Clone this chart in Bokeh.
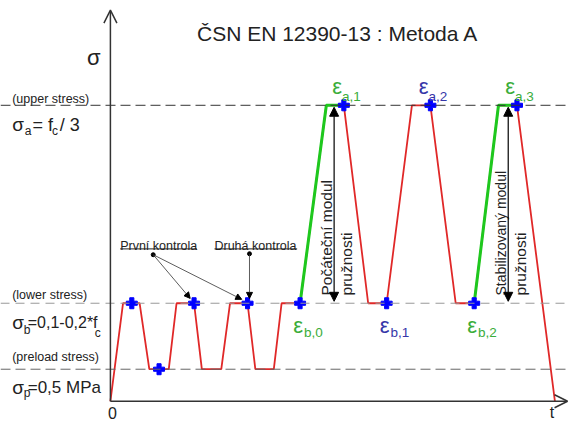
import math
from bokeh.plotting import figure
from bokeh.models import Range1d, Span, Arrow, NormalHead, OpenHead
from bokeh.core.properties import value
from bokeh.embed import file_html
from bokeh.resources import INLINE

FONT = "Liberation Sans"

# ---- schematic data (time units, stress units) ----
SIGMA_P = 33      # preload stress level
SIGMA_B = 101     # lower stress level
SIGMA_A = 305     # upper stress level
T_END = 470       # end of time axis
S_TOP = 403       # end of stress axis

path_t = [0, 13, 30, 40, 60, 68, 86, 94, 114, 123, 141, 149, 168, 176, 195,
          222, 240, 265, 284, 310, 329, 355, 374, 399, 418, 457]
path_s = [0, 101, 101, 33, 33, 101, 101, 33, 33, 101, 101, 33, 33, 101, 101,
          305, 305, 101, 101, 305, 305, 101, 101, 305, 305, 0]

green1_t = [195, 222, 240]
green1_s = [101, 305, 305]
green2_t = [374, 399, 418]
green2_s = [101, 305, 305]

mark_t = [22, 50, 86, 141, 195, 240, 284, 329, 374, 418]
mark_s = [101, 33, 101, 101, 101, 305, 101, 305, 101, 305]

eps_a_t = [240, 329, 418]
eps_a_sub = ["a,1", "a,2", "a,3"]
eps_a_col = ["#3aad3a", "#3636a8", "#3aad3a"]
eps_b_t = [195, 284, 374]
eps_b_sub = ["b,0", "b,1", "b,2"]
eps_b_col = ["#3aad3a", "#3636a8", "#3aad3a"]

title = "ČSN EN 12390-13 : Metoda A"

RED = "#e02828"
GREEN = "#1ec81e"
BLUE = "#0000ff"
TXT = "#222222"

# reference pixel -> data helpers (origin of axes at px 113, py 416)
def X(px):
    return px - 113

def Y(py):
    return 416 - py

p = figure(width=569, height=425, output_backend="svg", toolbar_location=None,
           x_range=Range1d(X(0), X(585)), y_range=Range1d(Y(441), Y(3)),
           x_axis_type=None, y_axis_type=None, min_border=0)
p.grid.visible = False
p.outline_line_color = None
p.background_fill_color = "white"

# dashed reference levels
p.add_layout(Span(location=SIGMA_A, dimension="width", line_color="#333333",
                  line_width=1, line_dash="10 5"))
p.add_layout(Span(location=SIGMA_B, dimension="width", line_color="#999999",
                  line_width=1, line_dash="9 6"))
p.add_layout(Span(location=SIGMA_P, dimension="width", line_color="#666666",
                  line_width=1, line_dash="10 5"))

# axes
p.add_layout(Arrow(x_start=0, y_start=0, x_end=0, y_end=S_TOP,
                   line_color="#333333", line_width=1.5,
                   end=OpenHead(size=13, line_color="#333333", line_width=1.5)))
p.add_layout(Arrow(x_start=0, y_start=0, x_end=T_END, y_end=0,
                   line_color="#333333", line_width=1.5,
                   end=OpenHead(size=13, line_color="#333333", line_width=1.5)))

# loading path
p.line(path_t, path_s, line_color=RED, line_width=1.8)
p.line(green1_t, green1_s, line_color=GREEN, line_width=3)
p.line(green2_t, green2_s, line_color=GREEN, line_width=3)

# modulus double arrows
for xa in [343, 522]:
    p.add_layout(Arrow(x_start=X(xa), y_start=SIGMA_B + 2, x_end=X(xa), y_end=SIGMA_A - 2,
                       line_color="black", line_width=1.2,
                       start=NormalHead(size=9, fill_color="black", line_color="black"),
                       end=NormalHead(size=9, fill_color="black", line_color="black")))

p.scatter(mark_t, mark_s, marker="plus", size=11, fill_color=BLUE, line_color=BLUE)

def txt(x, y, s, size, color=TXT, align="left", baseline="alphabetic", angle=0.0):
    p.text(x=[x], y=[y], text=[s], text_font=value(FONT), text_font_size=value(size),
           text_color=color, text_align=align, text_baseline=baseline, angle=angle)

# title and axis labels
txt(X(202), Y(37), title, "21px")
txt(X(89), Y(62), "σ", "22px")
txt(X(115), Y(428), "0", "16px", align="center")
txt(X(567), Y(428), "t", "16px", align="center")

# left labels
txt(X(12), Y(104), "(upper stress)", "12.5px")
txt(X(12), Y(131), "σ", "19px")
txt(X(25), Y(137), "a", "12px")
txt(X(33), Y(131), "= f", "18px")
txt(X(53), Y(137), "c", "12px")
txt(X(61), Y(131), "/ 3", "18px")

txt(X(12), Y(306), "(lower stress)", "12.5px")
txt(X(12), Y(335), "σ", "19px")
txt(X(24), Y(343), "b", "12px")
txt(X(28), Y(335), "=0,1-0,2*f", "16px")
txt(X(97), Y(346), "c", "12px")

txt(X(12), Y(370), "(preload stress)", "12.5px")
txt(X(12), Y(402), "σ", "19px")
txt(X(24), Y(408), "p", "12px")
txt(X(28), Y(402), "=0,5 MPa", "17px")

# epsilon labels
for t, sub, col in zip(eps_a_t, eps_a_sub, eps_a_col):
    txt(t - 12, SIGMA_A + 19, "ε", "22px", color=col)
    txt(t - 2, SIGMA_A + 9, sub, "13.5px", color=col)
for t, sub, col in zip(eps_b_t, eps_b_sub, eps_b_col):
    txt(t - 7, SIGMA_B - 23, "ε", "22px", color=col)
    txt(t + 4, SIGMA_B - 30, sub, "13.5px", color=col)

# rotated modulus texts
txt(X(335), Y(307), "Počáteční modul", "15.5px", angle=math.pi / 2)
txt(X(356), Y(307), "pružnosti", "15.5px", angle=math.pi / 2)
txt(X(515), Y(307), "Stabilizovaný modul", "14px", angle=math.pi / 2)
txt(X(535), Y(307), "pružnosti", "15.5px", angle=math.pi / 2)

# control annotations
txt(X(123), Y(256), "První kontrola", "12.5px")
txt(X(220), Y(256), "Druhá kontrola", "12.5px")
p.segment(x0=[X(123), X(220)], y0=[Y(259), Y(259)], x1=[X(202), X(305)], y1=[Y(259), Y(259)],
          line_color=TXT, line_width=1)
p.scatter([X(157), X(256)], [Y(265), Y(264)], size=4, color="black")
for (xs, ys, xe, ye) in [(157, 265, mark_t[2] + 113 - 4, 310),
                         (157, 265, mark_t[3] + 113 - 6, 311),
                         (256, 264, mark_t[3] + 113 + 2, 310)]:
    p.add_layout(Arrow(x_start=X(xs), y_start=Y(ys), x_end=X(xe), y_end=Y(ye),
                       line_color="#333333", line_width=0.8,
                       end=NormalHead(size=6, fill_color="black", line_color="black")))

open("out.html", "w").write(file_html(p, INLINE))
